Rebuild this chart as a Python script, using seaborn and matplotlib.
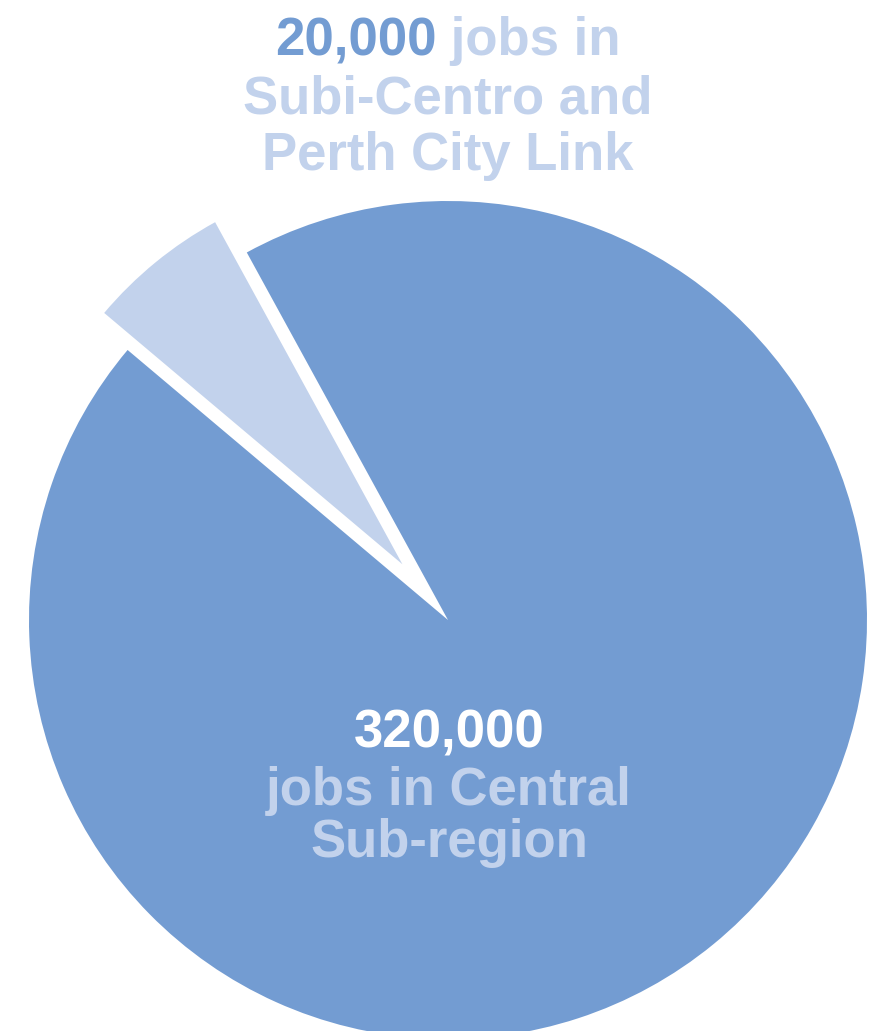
import seaborn as sns
import matplotlib.pyplot as plt
from matplotlib import font_manager

# data
labels = ['Subi-Centro and Perth City Link', 'Central Sub-region']
jobs = [20000, 320000]
colors = ['#C2D2EC', '#739CD2']

sns.set_theme(style='white')
names = {f.name for f in font_manager.fontManager.ttflist}
font = 'Liberation Sans' if 'Liberation Sans' in names else 'DejaVu Sans'
plt.rcParams['font.family'] = [font, 'DejaVu Sans']

fig = plt.figure(figsize=(8.8, 10.31), dpi=100)
ax = fig.add_axes([0, 0, 1, 1])

# pie, small slice pulled out to the upper left
# (explode is in data units here because radius is in pixels)
wedges, _ = ax.pie(jobs, colors=colors, startangle=118.7, counterclock=True,
                   center=(448, 411), radius=419, explode=[72, 0],
                   frame=True, wedgeprops={'linewidth': 0})
wedges[0].set_radius(390)
ax.set_xlim(0, 880)
ax.set_ylim(0, 1031)
ax.axis('off')

fs = 38
light = colors[0]
dark = colors[1]

# top label, first line in two colours
t1 = ax.text(0, 976, f'{jobs[0]:,}', color=dark, fontsize=fs,
             fontweight='bold', ha='left', va='baseline')
t2 = ax.text(0, 976, ' jobs in', color=light, fontsize=fs,
             fontweight='bold', ha='left', va='baseline')
fig.canvas.draw()
r = fig.canvas.get_renderer()
inv = ax.transData.inverted()
w1 = inv.transform(t1.get_window_extent(r))[:, 0]
w2 = inv.transform(t2.get_window_extent(r))[:, 0]
w1 = w1[1] - w1[0]
w2 = w2[1] - w2[0]
x0 = 448 - (w1 + w2) / 2
t1.set_x(x0)
t2.set_x(x0 + w1)

ax.text(448, 918, 'Subi-Centro and', color=light, fontsize=fs,
        fontweight='bold', ha='center', va='baseline')
ax.text(448, 861, 'Perth City Link', color=light, fontsize=fs,
        fontweight='bold', ha='center', va='baseline')

# label inside the big slice
ax.text(449, 284, f'{jobs[1]:,}', color='white', fontsize=fs,
        fontweight='bold', ha='center', va='baseline')
ax.text(449, 226, 'jobs in Central', color=light, fontsize=fs,
        fontweight='bold', ha='center', va='baseline')
ax.text(449, 174, 'Sub-region', color=light, fontsize=fs,
        fontweight='bold', ha='center', va='baseline')

fig.savefig('out.png', dpi=100, facecolor='white')
